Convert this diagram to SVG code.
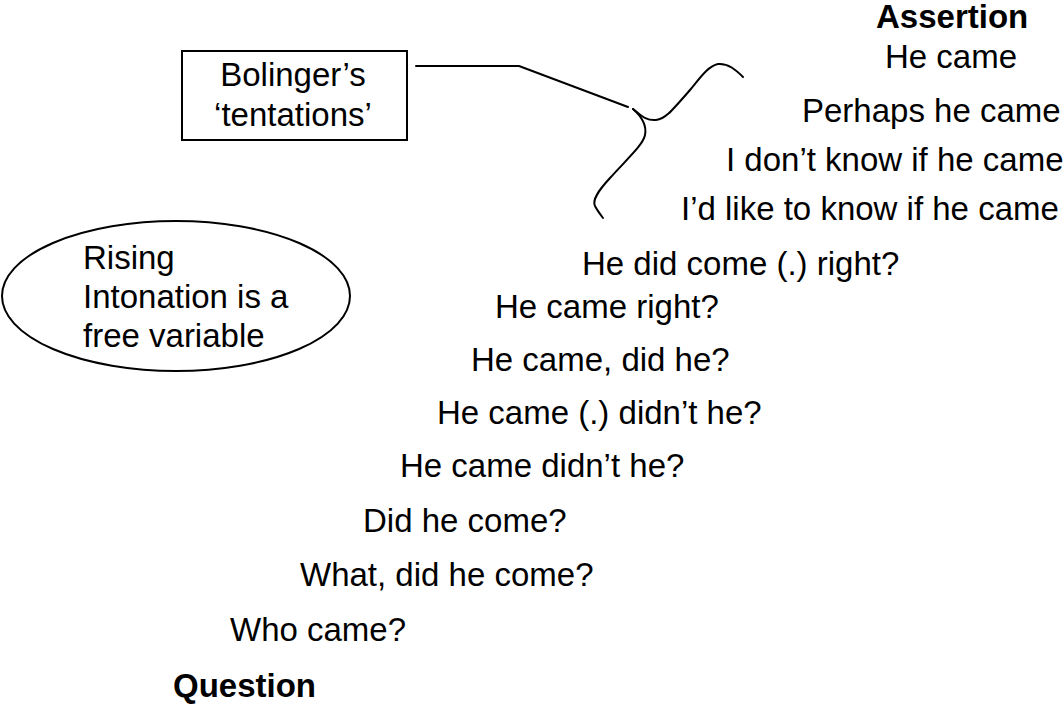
<svg xmlns="http://www.w3.org/2000/svg" width="1064" height="704" viewBox="0 0 1064 704">
<style>
text{font-family:"Liberation Sans",Arial,sans-serif;font-size:33px;fill:#000}
.b{font-weight:bold}
.ln{fill:none;stroke:#000;stroke-width:2;stroke-linecap:round;stroke-linejoin:round}
</style>
<rect width="1064" height="704" fill="#fff"/>
<g id="box">
<rect x="182" y="51" width="225" height="89" fill="#fff" stroke="#000" stroke-width="2"/>
<text x="293" y="86" text-anchor="middle">Bolinger’s</text>
<text x="293" y="126" text-anchor="middle">‘tentations’</text>
</g>
<g id="ellipse">
<ellipse cx="176" cy="296" rx="174" ry="75" fill="none" stroke="#000" stroke-width="2"/>
<text x="83" y="269">Rising</text>
<text x="83" y="308">Intonation is a</text>
<text x="83" y="347">free variable</text>
</g>
<g id="connectors">
<polyline class="ln" points="416,66 519,66 628,107"/>
<path class="ln" d="M633,109 C640,114 645,121 656,120 C665,119 670,113 690,90 C700,78 708,66 718,64 C728,63 736,70 743,77"/>
<path class="ln" d="M633,109 C641,116 647,125 645,135 C643,145 628,158 610,178 C598,191 592,200 595,206 C597,210 600,214 603,218"/>
</g>
<g id="scale">
<text class="b" x="876" y="28">Assertion</text>
<text x="885" y="68">He came</text>
<text x="802" y="122">Perhaps he came</text>
<text x="726" y="171">I don’t know if he came</text>
<text x="681" y="220">I’d like to know if he came</text>
<text x="582" y="275">He did come (.) right?</text>
<text x="495" y="318">He came right?</text>
<text x="471" y="371">He came, did he?</text>
<text x="437" y="424">He came (.) didn’t he?</text>
<text x="400" y="477">He came didn’t he?</text>
<text x="363" y="532">Did he come?</text>
<text x="300" y="586">What, did he come?</text>
<text x="230" y="641">Who came?</text>
<text class="b" x="173" y="697">Question</text>
</g>
</svg>
